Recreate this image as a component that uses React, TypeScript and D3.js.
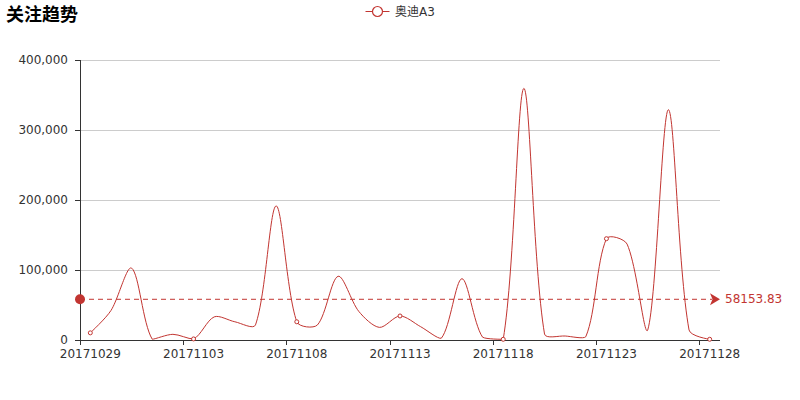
import React from 'react';
import * as d3 from 'd3';

const title = '关注趋势';
const seriesName = '奥迪A3';

const dates = [
  '20171029', '20171030', '20171031', '20171101', '20171102', '20171103', '20171104',
  '20171105', '20171106', '20171107', '20171108', '20171109', '20171110', '20171111',
  '20171112', '20171113', '20171114', '20171115', '20171116', '20171117', '20171118',
  '20171119', '20171120', '20171121', '20171122', '20171123', '20171124', '20171125',
  '20171126', '20171127', '20171128',
];

const values = [
  10213, 42106, 102700, 1102, 8105, 1520, 33021,
  26034, 21560, 191540, 26012, 21480, 91011, 41020,
  18030, 34310, 19002, 2511, 87550, 4020, 1021,
  359520, 8530, 5712, 4718, 144730, 137000, 14320,
  329010, 14330, 1030.73,
];

const yTicks = [0, 100000, 200000, 300000, 400000];

const color = '#c23531';
const axisColor = '#333';
const font = '"DejaVu Sans", "Noto Sans CJK SC", sans-serif';

const width = 800;
const height = 400;
const grid = { left: 80, right: 720, top: 60, bottom: 340 };
const labelEvery = 5;

// echarts-like smooth polyline, control points kept inside the points' bbox
function smoothPath(points: [number, number][], smooth = 0.3): string {
  const p = d3.path();
  const minX = d3.min(points, (d) => d[0])!;
  const maxX = d3.max(points, (d) => d[0])!;
  const minY = d3.min(points, (d) => d[1])!;
  const maxY = d3.max(points, (d) => d[1])!;
  const clamp = (c: [number, number]): [number, number] => [
    Math.max(minX, Math.min(maxX, c[0])),
    Math.max(minY, Math.min(maxY, c[1])),
  ];
  let cp0: [number, number] = [points[0][0], points[0][1]];
  p.moveTo(points[0][0], points[0][1]);
  for (let i = 1; i < points.length; i++) {
    const cur = points[i];
    const prev = points[i - 1];
    const next = points[i + 1];
    let cp1: [number, number];
    let ratio = 0.5;
    let v: [number, number] = [0, 0];
    if (!next) {
      cp1 = [cur[0], cur[1]];
    } else {
      v = [next[0] - prev[0], next[1] - prev[1]];
      const lp = Math.hypot(cur[0] - prev[0], cur[1] - prev[1]);
      const ln = Math.hypot(next[0] - cur[0], next[1] - cur[1]);
      ratio = ln / (ln + lp);
      cp1 = [cur[0] - v[0] * smooth * (1 - ratio), cur[1] - v[1] * smooth * (1 - ratio)];
    }
    const a = clamp(cp0);
    const b = clamp(cp1);
    p.bezierCurveTo(a[0], a[1], b[0], b[1], cur[0], cur[1]);
    cp0 = [cur[0] + v[0] * smooth * ratio, cur[1] + v[1] * smooth * ratio];
  }
  return p.toString();
}

const App: React.FC = () => {
  const x = d3.scaleBand<string>().domain(dates).range([grid.left, grid.right]).paddingInner(0).paddingOuter(0);
  const y = d3.scaleLinear().domain([0, 400000]).range([grid.bottom, grid.top]);
  const bw = x.bandwidth();
  const cx = (d: string) => (x(d) || 0) + bw / 2;

  const points: [number, number][] = dates.map((d, i) => [cx(d), y(values[i])]);
  const avg = d3.mean(values)!;
  const avgY = y(avg);
  const fmt = d3.format(',');

  const shown = dates.filter((_, i) => i % labelEvery === 0);

  return (
    <svg width={width} height={height} style={{ position: 'absolute', left: 0, top: 0, background: '#fff' }}
      fontFamily={font}>
      <text x={6} y={21} fontSize={18} fontWeight="bold" fill="#000">{title}</text>

      {/* legend */}
      <g>
        <line x1={365.5} x2={389.5} y1={11.5} y2={11.5} stroke={color} strokeWidth={1} />
        <circle cx={377.5} cy={11.5} r={5} fill="#fff" stroke={color} strokeWidth={1.2} />
        <text x={395} y={11.5} fontSize={12} fill={axisColor} dominantBaseline="central">{seriesName}</text>
      </g>

      {/* split lines */}
      {yTicks.slice(1).map((t) => (
        <line key={t} x1={grid.left} x2={grid.right} y1={Math.round(y(t)) + 0.5} y2={Math.round(y(t)) + 0.5}
          stroke="#ccc" strokeWidth={1} />
      ))}

      {/* y axis */}
      <line x1={grid.left + 0.5} x2={grid.left + 0.5} y1={grid.top} y2={grid.bottom} stroke={axisColor} />
      {yTicks.map((t) => (
        <g key={t}>
          <line x1={grid.left - 5} x2={grid.left} y1={Math.round(y(t)) + 0.5} y2={Math.round(y(t)) + 0.5} stroke={axisColor} />
          <text x={grid.left - 12} y={y(t)} fontSize={12} fill={axisColor} textAnchor="end" dominantBaseline="central">
            {fmt(t)}
          </text>
        </g>
      ))}

      {/* x axis */}
      <line x1={grid.left} x2={grid.right} y1={grid.bottom + 0.5} y2={grid.bottom + 0.5} stroke={axisColor} />
      {shown.map((d) => (
        <g key={d}>
          <line x1={Math.round(x(d) || 0) + 0.5} x2={Math.round(x(d) || 0) + 0.5} y1={grid.bottom} y2={grid.bottom + 5}
            stroke={axisColor} />
          <text x={cx(d)} y={grid.bottom + 9.5} dy="0.71em" fontSize={12} fill={axisColor} textAnchor="middle">{d}</text>
        </g>
      ))}

      {/* series */}
      <path d={smoothPath(points)} fill="none" stroke={color} strokeWidth={1} />
      {points.filter((_, i) => i % labelEvery === 0).map((pt, i) => (
        <circle key={i} cx={pt[0]} cy={pt[1]} r={2} fill="#fff" stroke={color} strokeWidth={1} />
      ))}

      {/* average mark line */}
      <line x1={grid.left} x2={grid.right - 8} y1={avgY} y2={avgY} stroke={color} strokeWidth={1} strokeDasharray="5,4" />
      <circle cx={grid.left} cy={avgY} r={5} fill={color} />
      <path d={`M${grid.right},${avgY}L${grid.right - 10},${avgY - 6}L${grid.right - 7.5},${avgY}L${grid.right - 10},${avgY + 6}Z`}
        fill={color} />
      <text x={grid.right + 5} y={avgY} fontSize={12} fill={color} dominantBaseline="central">{avg.toFixed(2)}</text>
    </svg>
  );
};

export default App;
